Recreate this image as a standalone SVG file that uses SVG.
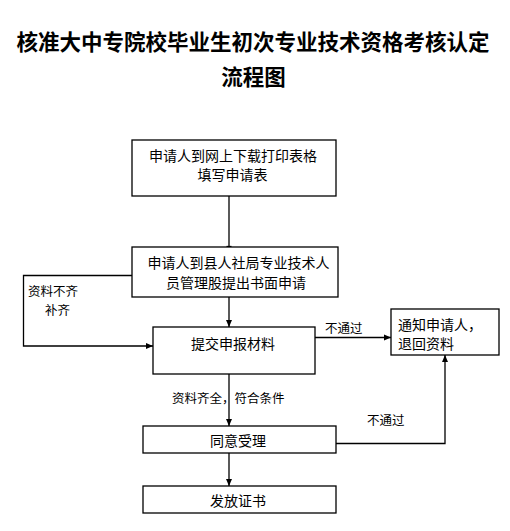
<svg xmlns="http://www.w3.org/2000/svg" width="510" height="531" viewBox="0 0 510 531">
<style>
.box{fill:#fff;stroke:#000;stroke-width:1.3}
.ln{fill:none;stroke:#000;stroke-width:1.3}
.t{font-family:"Noto Sans CJK SC","Liberation Sans",sans-serif;font-size:14px;fill:#000;dominant-baseline:central}
.s{font-family:"Noto Sans CJK SC","Liberation Sans",sans-serif;font-size:12.5px;fill:#000;dominant-baseline:central}
.title{font-family:"Noto Sans CJK SC","Liberation Sans",sans-serif;font-size:21.5px;font-weight:bold;fill:#000;text-anchor:middle;dominant-baseline:central}
</style>
<defs>
<marker id="ah" markerUnits="userSpaceOnUse" markerWidth="7" markerHeight="7" refX="7" refY="3.5" orient="auto">
<path d="M0,0.5 L7,3.5 L0,6.5 z" fill="#000"/>
</marker>
</defs>
<rect width="510" height="531" fill="#fff"/>
<g id="title">
<text class="title" x="253" y="40">核准大中专院校毕业生初次专业技术资格考核认定</text>
<text class="title" x="253.5" y="75">流程图</text>
</g>
<g id="connectors">
<line class="ln" x1="229" y1="196" x2="229" y2="247"/>
<line class="ln" x1="226.5" y1="246.5" x2="231.5" y2="246.5"/>
<polyline class="ln" points="132,275.5 23.5,275.5 23.5,346 153,346" marker-end="url(#ah)"/>
<line class="ln" x1="229" y1="297" x2="229" y2="327" marker-end="url(#ah)"/>
<line class="ln" x1="315" y1="337.5" x2="391" y2="337.5" marker-end="url(#ah)"/>
<line class="ln" x1="229" y1="374" x2="229" y2="426" marker-end="url(#ah)"/>
<polyline class="ln" points="336,443.5 445,443.5 445,355" marker-end="url(#ah)"/>
<line class="ln" x1="229" y1="453" x2="229" y2="486" marker-end="url(#ah)"/>
<text class="s" x="28" y="290">资料不齐</text>
<text class="s" x="45" y="309">补齐</text>
<text class="s" x="325" y="327">不通过</text>
<text class="s" x="172" y="397.5">资料齐全，符合条件</text>
<text class="s" x="367" y="419">不通过</text>
</g>
<g id="n1">
<rect class="box" x="132" y="140" width="204" height="56"/>
<text class="t" x="233" y="155" text-anchor="middle">申请人到网上下载打印表格</text>
<text class="t" x="232.5" y="173.5" text-anchor="middle">填写申请表</text>
</g>
<g id="n2">
<rect class="box" x="132" y="247" width="206" height="50"/>
<text class="t" x="238.5" y="261.5" text-anchor="middle">申请人到县人社局专业技术人</text>
<text class="t" x="236" y="281.5" text-anchor="middle">员管理股提出书面申请</text>
</g>
<g id="n3">
<rect class="box" x="153" y="327" width="162" height="47"/>
<text class="t" x="233" y="342.5" text-anchor="middle">提交申报材料</text>
</g>
<g id="n4">
<rect class="box" x="391" y="309" width="108" height="46"/>
<text class="t" x="398" y="324">通知申请人，</text>
<text class="t" x="398" y="342.5">退回资料</text>
</g>
<g id="n5">
<rect class="box" x="143" y="426" width="193" height="27"/>
<text class="t" x="238" y="439.5" text-anchor="middle">同意受理</text>
</g>
<g id="n6">
<rect class="box" x="143" y="486" width="193" height="27"/>
<text class="t" x="238" y="500" text-anchor="middle">发放证书</text>
</g>
</svg>
